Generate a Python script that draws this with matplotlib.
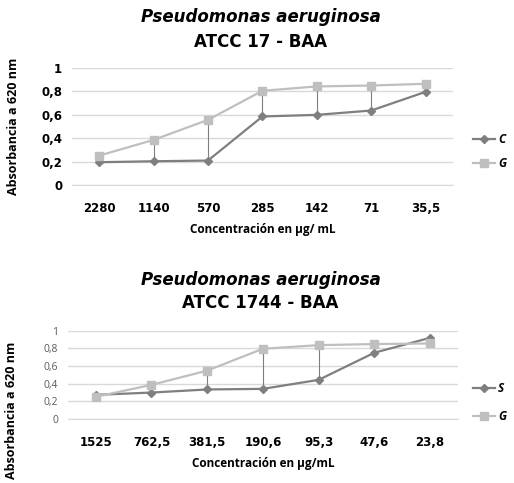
import matplotlib
matplotlib.use("Agg")
import matplotlib.pyplot as plt
import numpy as np

# top chart: ATCC 17 - BAA
top_labels = ["2280", "1140", "570", "285", "142", "71", "35,5"]
top_c = [0.195, 0.203, 0.209, 0.586, 0.600, 0.637, 0.797]
top_g = [0.251, 0.386, 0.557, 0.806, 0.843, 0.851, 0.866]

# bottom chart: ATCC 1744 - BAA
bot_labels = ["1525", "762,5", "381,5", "190,6", "95,3", "47,6", "23,8"]
bot_s = [0.274, 0.300, 0.335, 0.342, 0.444, 0.752, 0.921]
bot_g = [0.252, 0.387, 0.549, 0.797, 0.838, 0.850, 0.857]

yticks = [0, 0.2, 0.4, 0.6, 0.8, 1]
ytick_labels = ["0", "0,2", "0,4", "0,6", "0,8", "1"]

DARK = "#7f7f7f"
LIGHT = "#bfbfbf"
GRID = "#d9d9d9"
WIDE = "DejaVu Sans"

plt.rcParams["font.family"] = ["Open Sans", "DejaVu Sans"]

fig = plt.figure(figsize=(5.14, 4.83), dpi=100)


def draw(rect, labels, first, second, first_name, ytick_style, xlabel, legend_pos, spacing):
    ax = fig.add_axes(rect)
    x = np.arange(len(labels))
    lo = np.minimum(first, second)
    hi = np.maximum(first, second)
    ax.vlines(x, lo, hi, color=DARK, linewidth=0.8, zorder=2)
    ax.plot(x, first, color=DARK, linewidth=1.6, marker="D", markersize=4.5,
            label=first_name, zorder=3)
    ax.plot(x, second, color=LIGHT, linewidth=1.6, marker="s", markersize=5.5,
            label="G", zorder=4)
    ax.set_xlim(-0.5, len(labels) - 0.5)
    ax.set_ylim(0, 1)
    ax.set_yticks(yticks)
    ax.set_yticklabels(ytick_labels, **ytick_style)
    ax.set_xticks(x)
    ax.set_xticklabels(labels, fontsize=8.5, fontweight="bold", family=WIDE)
    ax.tick_params(length=0)
    ax.tick_params(axis="x", pad=12)
    ax.tick_params(axis="y", pad=7)
    ax.yaxis.grid(True, color=GRID, linewidth=1)
    ax.set_axisbelow(True)
    for s in ["top", "right", "left"]:
        ax.spines[s].set_visible(False)
    ax.spines["bottom"].set_color(GRID)
    ax.set_xlabel(xlabel, fontsize=8.5, fontweight="bold", labelpad=6)
    fig.legend(handles=ax.get_lines(), loc="center left",
               bbox_to_anchor=legend_pos, frameon=False, handlelength=1.9,
               handletextpad=0.25, labelspacing=spacing, borderpad=0,
               borderaxespad=0,
               prop={"size": 8.5, "weight": "bold", "style": "italic"})
    return ax


ax1 = draw([0.140, 0.617, 0.741, 0.242], top_labels, top_c, top_g, "C",
           {"fontsize": 8.5, "fontweight": "bold", "color": "black", "family": WIDE},
           "Concentración en µg/ mL", (0.920, 0.686), 0.9)
ax1.set_ylabel("Absorbancia a 620 nm", fontsize=9, fontweight="bold")
ax1.yaxis.set_label_coords(-0.136, 0.5)

ax2 = draw([0.132, 0.1325, 0.759, 0.1825], bot_labels, bot_s, bot_g, "S",
           {"fontsize": 7.5, "color": "#595959"},
           "Concentración en µg/mL", (0.920, 0.166), 1.25)
ax2.set_ylabel("Absorbancia a 620 nm", fontsize=9, fontweight="bold")
ax2.yaxis.set_label_coords(-0.128, 0.10)

fig.text(0.507, 0.965, "Pseudomonas aeruginosa", ha="center", va="center",
         fontsize=12, fontweight="bold", style="italic", family=WIDE)
fig.text(0.507, 0.913, "ATCC 17 - BAA", ha="center", va="center",
         fontsize=12, fontweight="bold", family=WIDE)
fig.text(0.507, 0.420, "Pseudomonas aeruginosa", ha="center", va="center",
         fontsize=12, fontweight="bold", style="italic", family=WIDE)
fig.text(0.507, 0.372, "ATCC 1744 - BAA", ha="center", va="center",
         fontsize=12, fontweight="bold", family=WIDE)

fig.savefig("out.png", dpi=100)
